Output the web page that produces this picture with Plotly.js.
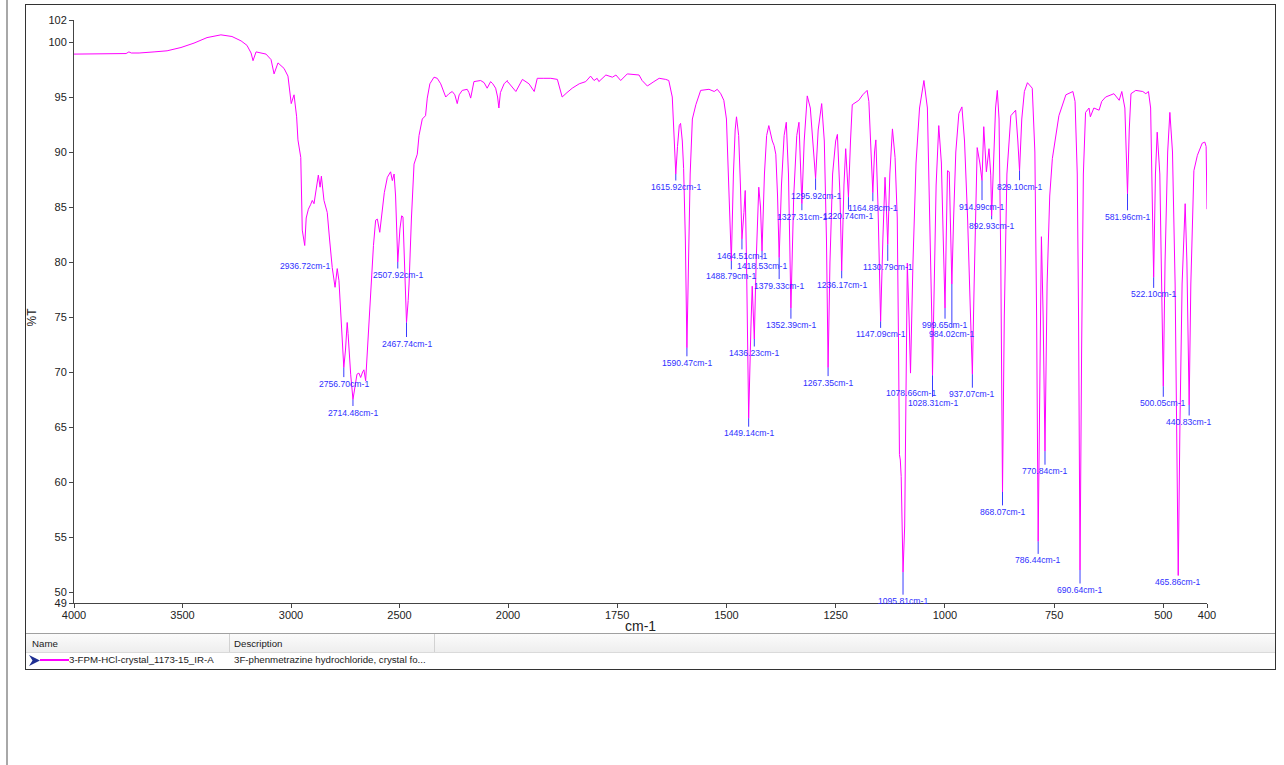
<!DOCTYPE html>
<html><head><meta charset="utf-8">
<script src="https://cdn.plot.ly/plotly-3.0.1.min.js"></script>
<style>
body{margin:0;background:#fff;font-family:"Liberation Sans",Arial,sans-serif;}
#wrap{position:relative;width:1284px;height:765px;overflow:hidden;background:#fff;}
#chart{position:absolute;left:0;top:0;width:1284px;height:765px;}
.ov{position:absolute;pointer-events:none;box-sizing:border-box;}
.txt{position:absolute;font-size:9.7px;color:#1a1a1a;white-space:nowrap;line-height:12px;}
</style></head><body>
<div id="wrap">
<div id="chart"></div>
<div class="ov" style="left:6px;top:0;width:2px;height:765px;background:#a8a8a8"></div>
<div class="ov" style="left:25px;top:4px;width:1251px;height:666px;border:1px solid #333;"></div>
<div class="ov" style="left:26px;top:633px;width:1249px;height:20px;border-top:1px solid #a0a0a0;border-bottom:1px solid #dadada;background:linear-gradient(#fbfbfb,#eeeeee);"></div>
<div class="ov" style="left:229px;top:634px;width:1px;height:18px;background:#d2d2d2"></div>
<div class="ov" style="left:434px;top:634px;width:1px;height:18px;background:#d2d2d2"></div>
<div class="txt" style="left:32px;top:638px;">Name</div>
<div class="txt" style="left:234px;top:638px;">Description</div>
<svg class="ov" style="left:29px;top:655px" width="12" height="11"><polygon points="0,0 11,5.5 0,11 3.5,5.5" fill="#1f2f93"/></svg>
<div class="ov" style="left:40px;top:659px;width:29px;height:2px;background:#ff00ff"></div>
<div class="txt" style="left:69px;top:654px;">3-FPM-HCl-crystal_1173-15_IR-A</div>
<div class="txt" style="left:234px;top:654px;">3F-phenmetrazine hydrochloride, crystal fo...</div>
</div>
<script>
// ---- data: wavenumber (cm-1) and transmittance (%T) ----
const wnHigh = [4000,3900,3850,3800,3760,3747,3736,3700,3650,3631,
  3571,3507,3447,3387,3323,3272,3230,3203,3184,3175,
  3161,3115,3092,3078,3060,3032,3014,3005,2999,2986,
  2974,2968,2960,2955,2948,2936.72,2930,2920,2910,2902,
  2894,2884,2874,2866,2860,2848,2833,2822,2810,2797,
  2787,2779,2770,2762,2756.70,2749,2741,2737,2733,2725,
  2714.48,2705,2696,2687,2679,2670,2664,2656,2648,2640,
  2630,2620,2610,2602,2591,2580,2570,2556,2541,2533,
  2525,2518,2514,2507.92,2498,2490,2484,2477,2472,2467.74,
  2460,2456,2445,2433,2418,2410,2395,2380,2372,2360,
  2341,2326,2310,2295,2287,2272,2257,2245,2234,2225,
  2211,2188,2180,2172,2165,2157,2126,2110,2096,2080,
  2070,2057,2048,2042,2035,2018,2003];
const ptHigh = [98.9,98.9,98.95,98.9,98.95,99.1,99.0,99.0,99.05,99.1,
  99.2,99.5,99.9,100.4,100.65,100.5,100.1,99.7,99.0,98.3,
  99.1,98.9,98.4,97.1,98.1,97.6,96.9,95.1,94.4,95.2,
  93.2,91.1,90.1,89.5,82.9,81.5,84.0,84.8,85.2,85.6,
  85.3,86.8,87.9,86.8,87.8,85.6,84.5,82.0,79.5,77.7,
  79.4,78.3,75.5,72.5,70.4,72.0,74.5,73.5,71.9,69.8,
  67.5,68.8,69.8,69.9,69.5,70.0,70.2,69.2,71.9,75.0,
  78.0,81.5,83.8,83.9,82.7,84.5,86.3,87.7,88.2,87.4,
  88.0,86.0,83.5,80.0,83.0,84.2,84.1,80.0,76.5,74.5,
  76.5,78.0,84.0,88.9,89.8,91.5,93.0,93.3,94.9,96.2,
  96.8,96.7,96.2,95.4,95.0,95.3,95.5,95.2,94.4,95.2,
  95.6,95.7,95.4,94.9,95.8,96.4,96.5,96.3,95.8,96.4,
  96.2,95.8,95.0,94.0,95.4,96.2,96.5];

const wnLow = [1982,1967,1952,1940,1933,1918,1902,1887,1876,1865,
  1853,1837,1822,1811,1803,1796,1792,1776,1761,1753,
  1742,1727,1700,1693,1681,1666,1654,1639,1632,1624,
  1619,1615.92,1612,1608,1605,1601,1598,1594,1590.47,1587,
  1583,1578,1570,1559,1540,1528,1521,1513,1506,1500,
  1495,1488.79,1484,1480,1477,1472,1468,1464.51,1460,1457,
  1454,1449.14,1444,1441,1436.23,1432,1426,1422,1418.53,1413,
  1408,1403,1395,1391,1387,1383,1379.33,1374,1368,1363,
  1358,1352.39,1346,1339,1334,1330,1327.31,1322,1315,1308,
  1300,1295.92,1290,1282,1276,1271,1267.35,1263,1257,1250,
  1246,1240,1236.17,1231,1227,1223,1220.74,1216,1212,1197,
  1188,1178,1174,1169,1164.88,1161,1158,1153,1147.09,1142,
  1137,1134,1130.79,1126,1120,1114,1109,1106,1104,1102,
  1100,1095.81,1092,1090,1088,1086,1082,1078.66,1073,1066,
  1058,1048,1040,1035,1030,1028.31,1025,1020,1014,1008,
  1003,999.65,997,994,990,987,984.02,980,975,968,
  961,955,948,942,937.07,933,929,926,920,914.99,
  911,905,899,895,892.93,888,884,880,876,872,
  868.07,864,858,849,838,833,829.10,824,818,811,
  800,794,790,786.44,782,779,775,770.84,766,760,
  754,739,723,707,702,697,694,690.64,687,683,
  678,670,667,659,647,641,632,613,601,595,
  588,585,581.96,578,574,563,547,540,534,529,
  526,522.10,518,514,508,504,500.05,496,490,485,
  479,473,469,465.86,462,457,450,446,440.83,437,
  430,422,411,405,402,400];
const ptLow = [95.5,96.6,96.2,95.5,96.7,96.7,96.7,96.6,95.0,95.4,
  95.8,96.2,96.4,96.9,96.5,96.7,96.4,97.0,96.8,97.0,
  96.5,97.1,97.0,96.5,96.0,96.4,96.7,96.6,96.5,95.0,
  91.0,88.0,90.5,92.4,92.6,91.0,88.5,82.0,72.2,80.0,
  88.0,93.0,94.3,95.6,95.7,95.5,95.7,95.3,94.7,93.0,
  88.0,80.1,88.0,92.0,93.2,91.5,87.0,82.1,84.5,86.5,
  80.0,65.8,74.0,77.8,73.0,80.0,86.8,85.0,81.0,88.0,
  91.5,92.4,91.0,90.6,89.8,86.0,80.4,87.0,91.5,92.7,
  88.0,75.8,86.0,91.5,92.7,89.0,85.3,91.0,95.1,94.0,
  90.0,87.6,92.0,94.4,91.0,82.0,70.4,80.0,88.0,91.0,
  91.6,86.0,79.2,87.0,90.3,88.0,85.9,91.0,94.3,94.7,
  95.2,95.6,94.6,90.0,86.3,90.0,91.1,85.0,74.6,82.0,
  87.7,85.0,81.6,88.0,92.1,89.5,84.0,72.0,62.5,62.0,
  60.5,51.8,56.0,64.0,74.0,79.9,75.0,69.9,80.0,89.0,
  94.0,96.5,94.0,85.0,75.0,69.7,76.0,87.0,92.4,89.0,
  81.0,75.8,82.0,88.3,88.2,83.0,78.0,84.0,90.0,93.5,
  94.1,91.0,84.0,76.0,69.8,78.0,87.0,90.4,89.0,87.4,
  92.3,88.2,90.3,87.9,84.2,90.0,94.0,95.6,93.0,80.0,
  59.1,75.0,88.0,93.3,93.8,91.0,88.3,93.0,95.5,96.3,
  95.8,90.0,75.0,54.6,72.0,82.3,75.0,62.8,78.0,86.0,
  89.4,93.3,95.2,95.5,94.6,88.0,75.0,52.0,72.0,88.0,
  93.6,94.0,93.2,94.0,93.8,94.6,95.0,95.3,94.7,95.5,
  94.0,90.0,86.2,92.0,95.3,95.6,95.5,95.3,95.5,94.0,
  88.0,78.6,88.0,91.8,88.0,78.0,68.7,80.0,90.0,93.6,
  90.0,78.0,62.0,51.5,65.0,78.0,85.3,80.0,67.0,78.0,
  88.3,89.7,90.8,90.9,90.5,84.8];

// labelled peaks (wavenumbers), %T looked up from the data above
const peakWn = [2936.72,2756.70,2714.48,2507.92,2467.74,1615.92,1590.47,1488.79,1464.51,1449.14,
  1436.23,1418.53,1379.33,1352.39,1327.31,1295.92,1267.35,1236.17,1220.74,1164.88,
  1147.09,1130.79,1095.81,1078.66,1028.31,999.65,984.02,937.07,914.99,892.93,
  868.07,829.10,786.44,770.84,690.64,581.96,522.10,500.05,465.86,440.83];

// tick values
const yTicks = [49,50,55,60,65,70,75,80,85,90,95,100,102];
const xTicksHigh = [4000,3500,3000,2500,2000];
const xTicksLow = [1750,1500,1250,1000,750,500,400];

// ---- style / layout (pixel offsets of peak labels below their peaks) ----
const labelDrop = [20,16,13,13,21,13,15,15,17,15,
  14,15,28,17,13,18,15,14,19,15,
  13,23,29,20,28,17,50,20,26,10,
  20,16,19,20,20,23,17,17,6,17];

if (wnHigh.length !== ptHigh.length) throw new Error('high len ' + wnHigh.length + ' ' + ptHigh.length);
if (wnLow.length !== ptLow.length) throw new Error('low len ' + wnLow.length + ' ' + ptLow.length);
if (peakWn.length !== labelDrop.length) throw new Error('label len');

const wn = wnHigh.concat(wnLow);
const pt = ptHigh.concat(ptLow);

const FONT = '"Liberation Sans", Arial, sans-serif';
const lineStyle = {color:'#ff00ff', width:1};
const traces = [
  {x:wn, y:pt, xaxis:'x', yaxis:'y', type:'scatter', mode:'lines', line:lineStyle, hoverinfo:'skip'},
  {x:wn, y:pt, xaxis:'x2', yaxis:'y', type:'scatter', mode:'lines', line:lineStyle, hoverinfo:'skip'}
];

const annotations = peakWn.map((w, i) => {
  const idx = wn.indexOf(w);
  if (idx < 0) throw new Error('peak not found ' + w);
  return {
    x: w, y: pt[idx], xref: w >= 2000 ? 'x' : 'x2', yref: 'y',
    text: w.toFixed(2) + 'cm-1',
    showarrow: true, arrowhead: 0, arrowwidth: 1, arrowcolor: '#3a3aff',
    ax: 0, ay: labelDrop[i], standoff: 0,
    font: {family: FONT, size: 8.6, color: '#3030ff'}
  };
});
annotations.push({xref:'paper', yref:'paper', x:0.5, y:-0.039, xanchor:'center', yanchor:'middle',
  text:'cm-1', showarrow:false, font:{family:FONT, size:14, color:'#222'}});
annotations.push({xref:'paper', yref:'paper', x:-0.037, y:0.49, xanchor:'center', yanchor:'middle',
  text:'%T', textangle:-90, showarrow:false, font:{family:FONT, size:12, color:'#222'}});

const split = 434 / 1133;
const axisCommon = {showline:true, linecolor:'#444', linewidth:1, ticks:'outside', ticklen:4,
  tickcolor:'#444', tickwidth:1, showgrid:false, zeroline:false, fixedrange:true,
  tickfont:{family:FONT, size:11, color:'#222'}};

const layout = {
  width:1284, height:765,
  margin:{l:74, r:77, t:20, b:162, pad:0},
  paper_bgcolor:'rgba(0,0,0,0)', plot_bgcolor:'rgba(0,0,0,0)',
  showlegend:false,
  font:{family:FONT, size:11, color:'#222'},
  xaxis:Object.assign({}, axisCommon, {domain:[0, split], range:[4000, 2000], tickmode:'array', tickvals:xTicksHigh, anchor:'y', ticklabelstandoff:-2}),
  xaxis2:Object.assign({}, axisCommon, {domain:[split, 1], range:[2000, 400], tickmode:'array', tickvals:xTicksLow, anchor:'y', ticklabelstandoff:-2}),
  yaxis:Object.assign({}, axisCommon, {domain:[0,1], range:[49, 102], tickmode:'array', tickvals:yTicks, anchor:'x'}),
  annotations: annotations
};

Plotly.newPlot('chart', traces, layout, {displayModeBar:false, staticPlot:true});
</script>
</body></html>
